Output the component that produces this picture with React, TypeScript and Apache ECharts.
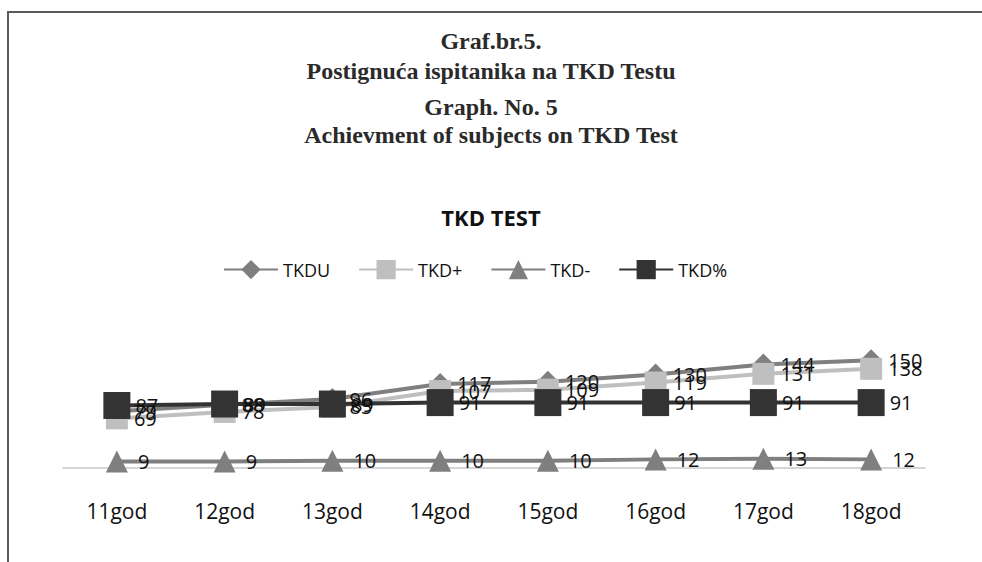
import React, { useEffect, useRef } from "react";
import * as echarts from "echarts";

const categories = ["11god", "12god", "13god", "14god", "15god", "16god", "17god", "18god"];
const tkdU = [79, 88, 96, 117, 120, 130, 144, 150];
const tkdPlus = [69, 78, 85, 107, 109, 119, 131, 138];
const tkdMinus = [9, 9, 10, 10, 10, 12, 13, 12];
const tkdPct = [87, 89, 89, 91, 91, 91, 91, 91];

const titleLines = [
  { text: "Graf.br.5.", top: 29 },
  { text: "Postignuća ispitanika na TKD Testu", top: 59 },
  { text: "Graph. No. 5", top: 95 },
  { text: "Achievment of subjects on TKD Test", top: 123 },
];

export default function App() {
  const ref = useRef<HTMLDivElement>(null);
  useEffect(() => {
    document.documentElement.style.overflow = "hidden";
    document.body.style.margin = "0";
    const chart = echarts.init(ref.current!, null, { renderer: "svg" });
    const labelFont = {
      show: true,
      position: "right" as const,
      color: "#111",
      fontSize: 20,
      fontFamily: "Open Sans",
    };
    chart.setOption({
      animation: false,
      backgroundColor: "#fff",
      title: [
        ...titleLines.map((t) => ({
          text: t.text,
          left: "center",
          top: t.top,
          padding: 0,
          textStyle: {
            fontFamily: "Liberation Serif",
            fontWeight: "bold",
            fontSize: 24,
            color: "#2a2a2a",
          },
        })),
        {
          text: "TKD TEST",
          left: "center",
          top: 206,
          padding: 0,
          textStyle: {
            fontFamily: "Open Sans",
            fontWeight: "bold",
            fontSize: 22,
            color: "#111",
          },
        },
      ],
      graphic: [
        {
          type: "polyline",
          shape: { points: [[982, 12], [8, 12], [8, 562]] },
          style: { fill: "none", stroke: "#5a5a5a", lineWidth: 2 },
          silent: true,
        },
      ],
      legend: {
        left: 218,
        top: 255,
        itemWidth: 54,
        itemHeight: 24,
        itemGap: 28,
        textStyle: { fontFamily: "Open Sans", fontSize: 18, color: "#111" },
        data: ["TKDU", "TKD+", "TKD-", "TKD%"],
      },
      grid: { left: 63, right: 57, top: 353, bottom: 94 },
      xAxis: {
        type: "category",
        data: categories,
        boundaryGap: true,
        axisLine: { lineStyle: { color: "#c8c8c8", width: 1.5 } },
        axisTick: { show: false },
        axisLabel: {
          fontFamily: "Open Sans",
          fontSize: 21,
          color: "#111",
          margin: 32,
        },
      },
      yAxis: {
        type: "value",
        min: 0,
        max: 160,
        interval: 20,
        show: false,
        splitLine: { show: false },
      },
      series: [
        {
          name: "TKDU",
          type: "line",
          data: tkdU,
          symbol: "diamond",
          symbolSize: 22,
          itemStyle: { color: "#7f7f7f" },
          lineStyle: { color: "#7f7f7f", width: 4 },
          label: { ...labelFont, distance: 6 },
        },
        {
          name: "TKD+",
          type: "line",
          data: tkdPlus,
          symbol: "rect",
          symbolSize: 22,
          itemStyle: { color: "#bfbfbf" },
          lineStyle: { color: "#bfbfbf", width: 4 },
          label: { ...labelFont, distance: 6 },
        },
        {
          name: "TKD-",
          type: "line",
          data: tkdMinus,
          symbol: "triangle",
          symbolSize: 22,
          itemStyle: { color: "#7f7f7f" },
          lineStyle: { color: "#7f7f7f", width: 4 },
          label: { ...labelFont, distance: 10 },
        },
        {
          name: "TKD%",
          type: "line",
          data: tkdPct,
          symbol: "rect",
          symbolSize: 27,
          itemStyle: { color: "#333333" },
          lineStyle: { color: "#333333", width: 4 },
          label: { ...labelFont, distance: 5 },
        },
      ],
    });
    return () => chart.dispose();
  }, []);
  return (
    <div
      ref={ref}
      style={{ position: "absolute", left: 0, top: 0, width: 982, height: 562 }}
    />
  );
}
